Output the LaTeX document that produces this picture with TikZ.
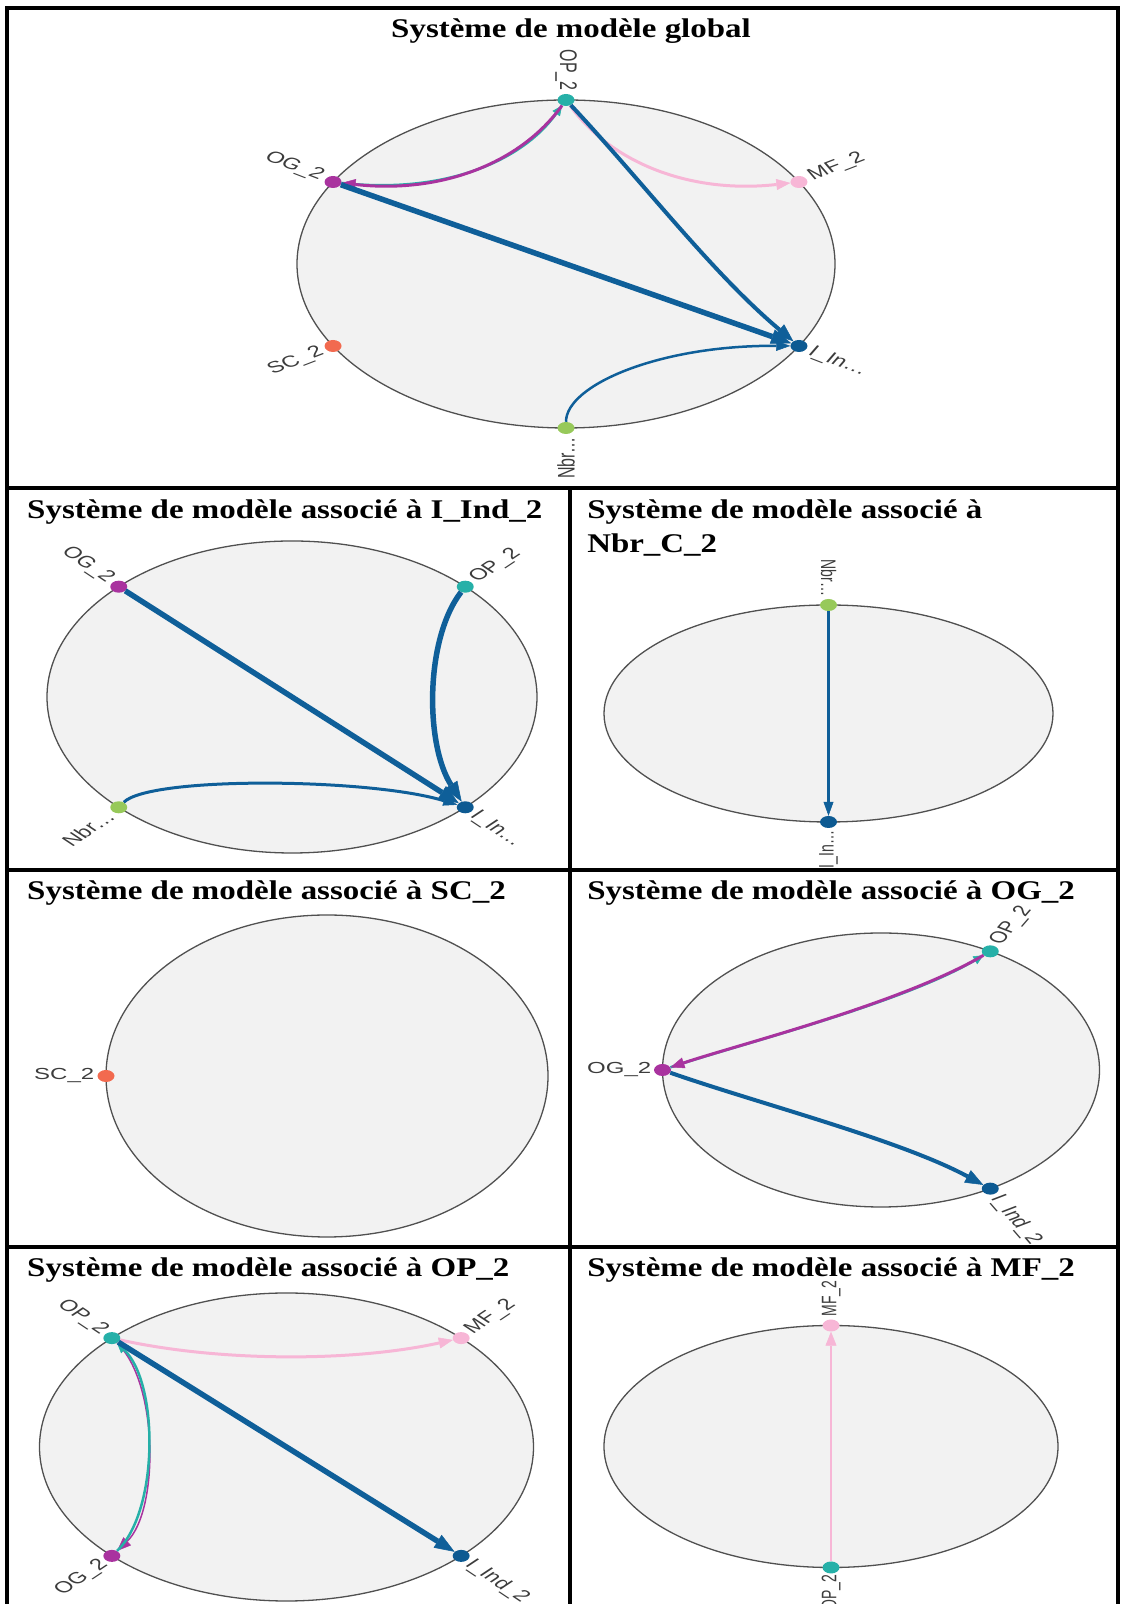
\documentclass[tikz,border=0pt]{standalone}
\usepackage{fontspec}
\setmainfont{Liberation Serif}
\newfontfamily\lblfont{Liberation Sans}
\usetikzlibrary{arrows.meta,shapes.geometric}
\definecolor{ModOP}{HTML}{26B0A8}
\definecolor{ModOG}{HTML}{A9339F}
\definecolor{ModMF}{HTML}{F7B6D6}
\definecolor{ModSC}{HTML}{F26A4F}
\definecolor{ModII}{HTML}{0D5A92}
\definecolor{ModNbr}{HTML}{97C95A}
\definecolor{EdgeBlue}{HTML}{0F5F99}
\definecolor{PanelFill}{HTML}{F2F2F2}
\definecolor{PanelLine}{HTML}{505050}
\definecolor{LabelGrey}{HTML}{3C3C3C}
\tikzset{
  frameline/.style={line width=4pt,draw=black},
  panelellipse/.style={fill=PanelFill,draw=PanelLine,line width=1.3pt},
  paneltitle/.style={font=\fontsize{27}{30}\selectfont\bfseries,xscale=1.22,inner sep=0pt},
  modnode/.style={ellipse,minimum width=17pt,minimum height=12pt,inner sep=0pt},
  modlabel/.style={font=\lblfont\fontsize{16}{19}\selectfont,text=LabelGrey,xscale=1.5,inner sep=1pt},
  smalllabel/.style={modlabel,font=\lblfont\fontsize{14}{17}\selectfont},
  bigarrow/.style={-{Triangle[length=20pt,width=15pt,line width=0.5pt]},line width=5.5pt,draw=EdgeBlue},
  midarrow/.style={-{Triangle[length=18pt,width=14pt,line width=0.5pt]},line width=4pt,draw=EdgeBlue},
  thinarrow/.style={-{Triangle[length=14pt,width=10pt,line width=0.5pt]},line width=2.5pt,draw=EdgeBlue},
  purplearrow/.style={-{Triangle[length=14pt,width=11pt,line width=0.5pt]},line width=3pt,draw=ModOG},
  pinkarrow/.style={-{Triangle[length=14pt,width=11pt,line width=0.5pt]},line width=3pt,draw=ModMF},
  tealarrow/.style={-{Triangle[length=10pt,width=9pt,line width=0.5pt]},line width=2.5pt,draw=ModOP}
}
\begin{document}
\begin{tikzpicture}[x=1pt,y=1pt]
\useasboundingbox (0,0) rectangle (1123,1604);
% cadre
\draw[frameline] (7,0) -- (7,1596) -- (1118,1596) -- (1118,0);
\draw[frameline] (7,1116) -- (1118,1116);
\draw[frameline] (7,734) -- (1118,734);
\draw[frameline] (7,357) -- (1118,357);
\draw[frameline] (570,1116) -- (570,0);
% titres
\node[paneltitle,anchor=base] (tglob) at (571,1566) {Système de modèle global};
\node[paneltitle,anchor=base west] (tind) at (27,1085) {Système de modèle associé à I\_Ind\_2};
\node[paneltitle,anchor=base west] (tnbr) at (587,1085) {Système de modèle associé à};
\node[paneltitle,anchor=base west] (tnbrb) at (587,1051) {Nbr\_C\_2};
\node[paneltitle,anchor=base west] (tsc) at (27,704) {Système de modèle associé à SC\_2};
\node[paneltitle,anchor=base west] (tog) at (587,704) {Système de modèle associé à OG\_2};
\node[paneltitle,anchor=base west] (top) at (27,327) {Système de modèle associé à OP\_2};
\node[paneltitle,anchor=base west] (tmf) at (587,327) {Système de modèle associé à MF\_2};

% global
\coordinate (gC) at (566,1340);
\draw[panelellipse] (gC) ellipse [x radius=269pt,y radius=164pt];
\node[modnode,fill=ModOP] (gOP) at ([shift={(90:269 and 164)}]gC) {};
\node[modnode,fill=ModMF] (gMF) at ([shift={(30:269 and 164)}]gC) {};
\node[modnode,fill=ModOG] (gOG) at ([shift={(150:269 and 164)}]gC) {};
\node[modnode,fill=ModSC] (gSC) at ([shift={(210:269 and 164)}]gC) {};
\node[modnode,fill=ModII] (gII) at ([shift={(330:269 and 164)}]gC) {};
\node[modnode,fill=ModNbr] (gNbr) at ([shift={(270:269 and 164)}]gC) {};
\node[modlabel,rotate=-90,anchor=east] (gOPl) at ([shift={(90:280 and 172)}]gC) {OP\_2};
\node[modlabel,rotate=30,anchor=west] (gMFl) at ([shift={(30:280 and 173)}]gC) {MF\_2};
\node[modlabel,rotate=-30,anchor=east] (gOGl) at ([shift={(150:280 and 173)}]gC) {OG\_2};
\node[modlabel,rotate=30,anchor=east] (gSCl) at ([shift={(210:280 and 173)}]gC) {SC\_2};
\node[modlabel,rotate=-30,anchor=west] (gIIl) at ([shift={(330:280 and 173)}]gC) {I\_In\ldots};
\node[modlabel,rotate=90,anchor=east] (gNbrl) at ([shift={(270:280 and 172)}]gC) {Nbr\ldots};
\draw[tealarrow] (gOG) .. controls (440,1410) and (520,1440) .. (gOP);
\draw[purplearrow] (gOP) .. controls (520,1440) and (440,1410) .. (gOG);
\draw[pinkarrow] (gOP) .. controls (612,1440) and (692,1410) .. (gMF);
\draw[thinarrow] (gNbr) .. controls (566,1219) and (660,1259) .. (gII);
\draw[midarrow] (gOP) .. controls (642,1423) and (712,1331) .. (gII);
\draw[bigarrow] (gOG) -- (gII);

% I_Ind_2
\coordinate (iC) at (292,907);
\draw[panelellipse] (iC) ellipse [x radius=245pt,y radius=156pt];
\node[modnode,fill=ModOG] (iOG) at ([shift={(135:245 and 156)}]iC) {};
\node[modnode,fill=ModOP] (iOP) at ([shift={(45:245 and 156)}]iC) {};
\node[modnode,fill=ModNbr] (iNbr) at ([shift={(225:245 and 156)}]iC) {};
\node[modnode,fill=ModII] (iII) at ([shift={(315:245 and 156)}]iC) {};
\node[modlabel,rotate=-45,anchor=east] (iOGl) at ([shift={(135:255 and 164)}]iC) {OG\_2};
\node[modlabel,rotate=45,anchor=west] (iOPl) at ([shift={(45:255 and 164)}]iC) {OP\_2};
\node[modlabel,rotate=45,anchor=east] (iNbrl) at ([shift={(225:255 and 164)}]iC) {Nbr\ldots};
\node[modlabel,rotate=-45,anchor=west] (iIIl) at ([shift={(315:255 and 164)}]iC) {I\_In\ldots};
\draw[bigarrow] (iOG) -- (iII);
\draw[bigarrow] (iOP) .. controls (425,965) and (425,860) .. (iII);
\draw[thinarrow,line width=3pt] (iNbr) .. controls (150,828) and (370,826) .. (iII);

% Nbr_C_2
\coordinate (nC) at (828.5,890.5);
\draw[panelellipse] (nC) ellipse [x radius=224.5pt,y radius=108.5pt];
\node[modnode,fill=ModNbr] (nNbr) at ([shift={(90:224.5 and 108.5)}]nC) {};
\node[modnode,fill=ModII] (nII) at ([shift={(270:224.5 and 108.5)}]nC) {};
\node[smalllabel,rotate=-90,anchor=east] (nNbrl) at ([shift={(90:236 and 116)}]nC) {Nbr\ldots};
\node[smalllabel,rotate=90,anchor=east] (nIIl) at ([shift={(270:236 and 116)}]nC) {I\_In\ldots};
\draw[thinarrow] (nNbr) -- (nII);

% SC_2
\coordinate (sC) at (327,528);
\draw[panelellipse] (sC) ellipse [x radius=221pt,y radius=161pt];
\node[modnode,fill=ModSC] (sSC) at ([shift={(180:221 and 161)}]sC) {};
\node[modlabel,anchor=east] (sSCl) at ([shift={(180:231 and 170)}]sC) {SC\_2};

% OG_2
\coordinate (oC) at (881,534);
\draw[panelellipse] (oC) ellipse [x radius=218.5pt,y radius=137pt];
\node[modnode,fill=ModOP] (oOP) at ([shift={(60:218.5 and 137)}]oC) {};
\node[modnode,fill=ModOG] (oOG) at ([shift={(180:218.5 and 137)}]oC) {};
\node[modnode,fill=ModII] (oII) at ([shift={(300:218.5 and 137)}]oC) {};
\node[modlabel,rotate=60,anchor=west] (oOPl) at ([shift={(60:228 and 145)}]oC) {OP\_2};
\node[modlabel,anchor=east] (oOGl) at ([shift={(180:228 and 145)}]oC) {OG\_2};
\node[modlabel,rotate=-60,anchor=west] (oIIl) at ([shift={(300:228 and 145)}]oC) {I\_Ind\_2};
\draw[tealarrow] (oOG) .. controls (740,560) and (900,600) .. (oOP);
\draw[purplearrow] (oOP) .. controls (900,600) and (740,560) .. (oOG);
\draw[midarrow] (oOG) .. controls (760,500) and (900,464) .. (oII);

% OP_2
\coordinate (pC) at (286.5,157);
\draw[panelellipse] (pC) ellipse [x radius=247pt,y radius=154pt];
\node[modnode,fill=ModOP] (pOP) at ([shift={(135:247 and 154)}]pC) {};
\node[modnode,fill=ModMF] (pMF) at ([shift={(45:247 and 154)}]pC) {};
\node[modnode,fill=ModOG] (pOG) at ([shift={(225:247 and 154)}]pC) {};
\node[modnode,fill=ModII] (pII) at ([shift={(315:247 and 154)}]pC) {};
\node[modlabel,rotate=-45,anchor=east] (pOPl) at ([shift={(135:256 and 162)}]pC) {OP\_2};
\node[modlabel,rotate=45,anchor=west] (pMFl) at ([shift={(45:256 and 162)}]pC) {MF\_2};
\node[modlabel,rotate=45,anchor=east] (pOGl) at ([shift={(225:256 and 162)}]pC) {OG\_2};
\node[modlabel,rotate=-45,anchor=west] (pIIl) at ([shift={(315:256 and 162)}]pC) {I\_Ind\_2};
\draw[purplearrow,line width=1.5pt] (pOP) .. controls (159,221) and (159,93) .. (pOG);
\draw[tealarrow] (pOG) .. controls (159,93) and (159,221) .. (pOP);
\draw[pinkarrow] (pOP) .. controls (220,242) and (353,242) .. (pMF);
\draw[bigarrow] (pOP) -- (pII);

% MF_2
\coordinate (mC) at (831,157.5);
\draw[panelellipse] (mC) ellipse [x radius=227pt,y radius=121pt];
\node[modnode,fill=ModMF] (mMF) at ([shift={(90:227 and 121)}]mC) {};
\node[modnode,fill=ModOP] (mOP) at ([shift={(270:227 and 121)}]mC) {};
\node[smalllabel,rotate=90,anchor=west] (mMFl) at ([shift={(90:236 and 129)}]mC) {MF\_2};
\node[smalllabel,rotate=90,anchor=east] (mOPl) at ([shift={(270:234 and 127)}]mC) {OP\_2};
\draw[pinkarrow,line width=2pt] (mOP) -- (mMF);
\end{tikzpicture}
\end{document}
